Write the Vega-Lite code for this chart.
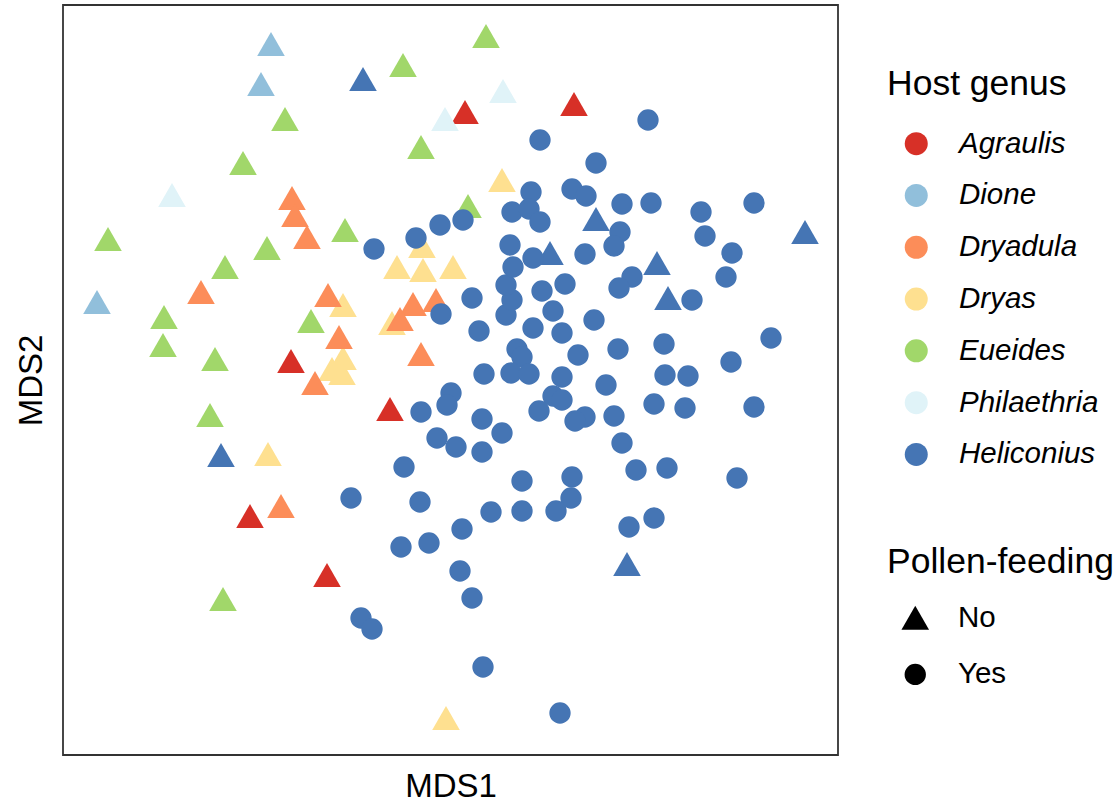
{
  "$schema": "https://vega.github.io/schema/vega-lite/v6.json",
  "width": 775,
  "height": 750,
  "autosize": {"type": "none"},
  "padding": {"left": 63, "top": 5, "right": 282, "bottom": 44},
  "background": "white",
  "config": {
    "view": {"stroke": "#333333", "strokeWidth": 1.8},
    "font": "Liberation Sans",
    "axis": {"domain": false, "ticks": false, "labels": false, "grid": false, "titleFont": "Liberation Sans", "titleFontSize": 33, "titleFontWeight": "normal", "titleColor": "black", "titlePadding": 15},
    "legend": {"padding": 0, "titleFont": "Liberation Sans", "titleFontSize": 35.5, "titleFontWeight": "normal", "titleColor": "black", "titleLimit": 600, "labelFont": "Liberation Sans", "labelFontSize": 29.5, "labelColor": "black", "labelLimit": 400, "symbolOpacity": 1, "symbolStrokeWidth": 0}
  },
  "data": {"values": [
    {"MDS1": 0.015, "MDS2": 0.268, "host": "Agraulis", "pollen": "No"},
    {"MDS1": 0.124, "MDS2": 0.276, "host": "Agraulis", "pollen": "No"},
    {"MDS1": -0.159, "MDS2": 0.019, "host": "Agraulis", "pollen": "No"},
    {"MDS1": -0.060, "MDS2": -0.029, "host": "Agraulis", "pollen": "No"},
    {"MDS1": -0.200, "MDS2": -0.136, "host": "Agraulis", "pollen": "No"},
    {"MDS1": -0.123, "MDS2": -0.195, "host": "Agraulis", "pollen": "No"},
    {"MDS1": -0.179, "MDS2": 0.336, "host": "Dione", "pollen": "No"},
    {"MDS1": -0.189, "MDS2": 0.296, "host": "Dione", "pollen": "No"},
    {"MDS1": -0.353, "MDS2": 0.078, "host": "Dione", "pollen": "No"},
    {"MDS1": 0.052, "MDS2": 0.200, "host": "Dryas", "pollen": "No"},
    {"MDS1": -0.028, "MDS2": 0.134, "host": "Dryas", "pollen": "No"},
    {"MDS1": -0.053, "MDS2": 0.113, "host": "Dryas", "pollen": "No"},
    {"MDS1": -0.027, "MDS2": 0.110, "host": "Dryas", "pollen": "No"},
    {"MDS1": 0.003, "MDS2": 0.113, "host": "Dryas", "pollen": "No"},
    {"MDS1": -0.107, "MDS2": 0.075, "host": "Dryas", "pollen": "No"},
    {"MDS1": -0.058, "MDS2": 0.057, "host": "Dryas", "pollen": "No"},
    {"MDS1": -0.107, "MDS2": 0.022, "host": "Dryas", "pollen": "No"},
    {"MDS1": -0.118, "MDS2": 0.011, "host": "Dryas", "pollen": "No"},
    {"MDS1": -0.108, "MDS2": 0.007, "host": "Dryas", "pollen": "No"},
    {"MDS1": -0.182, "MDS2": -0.074, "host": "Dryas", "pollen": "No"},
    {"MDS1": -0.004, "MDS2": -0.338, "host": "Dryas", "pollen": "No"},
    {"MDS1": -0.158, "MDS2": 0.182, "host": "Dryadula", "pollen": "No"},
    {"MDS1": -0.155, "MDS2": 0.165, "host": "Dryadula", "pollen": "No"},
    {"MDS1": -0.143, "MDS2": 0.143, "host": "Dryadula", "pollen": "No"},
    {"MDS1": -0.249, "MDS2": 0.088, "host": "Dryadula", "pollen": "No"},
    {"MDS1": -0.122, "MDS2": 0.085, "host": "Dryadula", "pollen": "No"},
    {"MDS1": -0.037, "MDS2": 0.076, "host": "Dryadula", "pollen": "No"},
    {"MDS1": -0.014, "MDS2": 0.080, "host": "Dryadula", "pollen": "No"},
    {"MDS1": -0.050, "MDS2": 0.061, "host": "Dryadula", "pollen": "No"},
    {"MDS1": -0.111, "MDS2": 0.043, "host": "Dryadula", "pollen": "No"},
    {"MDS1": -0.029, "MDS2": 0.026, "host": "Dryadula", "pollen": "No"},
    {"MDS1": -0.135, "MDS2": -0.003, "host": "Dryadula", "pollen": "No"},
    {"MDS1": -0.169, "MDS2": -0.126, "host": "Dryadula", "pollen": "No"},
    {"MDS1": 0.036, "MDS2": 0.344, "host": "Eueides", "pollen": "No"},
    {"MDS1": -0.047, "MDS2": 0.315, "host": "Eueides", "pollen": "No"},
    {"MDS1": -0.165, "MDS2": 0.261, "host": "Eueides", "pollen": "No"},
    {"MDS1": -0.029, "MDS2": 0.233, "host": "Eueides", "pollen": "No"},
    {"MDS1": -0.207, "MDS2": 0.217, "host": "Eueides", "pollen": "No"},
    {"MDS1": 0.018, "MDS2": 0.174, "host": "Eueides", "pollen": "No"},
    {"MDS1": -0.105, "MDS2": 0.150, "host": "Eueides", "pollen": "No"},
    {"MDS1": -0.342, "MDS2": 0.141, "host": "Eueides", "pollen": "No"},
    {"MDS1": -0.183, "MDS2": 0.132, "host": "Eueides", "pollen": "No"},
    {"MDS1": -0.225, "MDS2": 0.113, "host": "Eueides", "pollen": "No"},
    {"MDS1": -0.286, "MDS2": 0.063, "host": "Eueides", "pollen": "No"},
    {"MDS1": -0.139, "MDS2": 0.059, "host": "Eueides", "pollen": "No"},
    {"MDS1": -0.287, "MDS2": 0.035, "host": "Eueides", "pollen": "No"},
    {"MDS1": -0.235, "MDS2": 0.021, "host": "Eueides", "pollen": "No"},
    {"MDS1": -0.240, "MDS2": -0.035, "host": "Eueides", "pollen": "No"},
    {"MDS1": -0.227, "MDS2": -0.219, "host": "Eueides", "pollen": "No"},
    {"MDS1": 0.053, "MDS2": 0.289, "host": "Philaethria", "pollen": "No"},
    {"MDS1": -0.005, "MDS2": 0.261, "host": "Philaethria", "pollen": "No"},
    {"MDS1": -0.278, "MDS2": 0.185, "host": "Philaethria", "pollen": "No"},
    {"MDS1": -0.087, "MDS2": 0.301, "host": "Heliconius", "pollen": "No"},
    {"MDS1": 0.146, "MDS2": 0.161, "host": "Heliconius", "pollen": "No"},
    {"MDS1": 0.355, "MDS2": 0.148, "host": "Heliconius", "pollen": "No"},
    {"MDS1": 0.100, "MDS2": 0.127, "host": "Heliconius", "pollen": "No"},
    {"MDS1": 0.207, "MDS2": 0.117, "host": "Heliconius", "pollen": "No"},
    {"MDS1": 0.218, "MDS2": 0.082, "host": "Heliconius", "pollen": "No"},
    {"MDS1": -0.229, "MDS2": -0.075, "host": "Heliconius", "pollen": "No"},
    {"MDS1": 0.177, "MDS2": -0.184, "host": "Heliconius", "pollen": "No"},
    {"MDS1": 0.090, "MDS2": 0.240, "host": "Heliconius", "pollen": "Yes"},
    {"MDS1": 0.198, "MDS2": 0.260, "host": "Heliconius", "pollen": "Yes"},
    {"MDS1": 0.146, "MDS2": 0.217, "host": "Heliconius", "pollen": "Yes"},
    {"MDS1": 0.081, "MDS2": 0.188, "host": "Heliconius", "pollen": "Yes"},
    {"MDS1": 0.122, "MDS2": 0.191, "host": "Heliconius", "pollen": "Yes"},
    {"MDS1": 0.136, "MDS2": 0.184, "host": "Heliconius", "pollen": "Yes"},
    {"MDS1": 0.062, "MDS2": 0.168, "host": "Heliconius", "pollen": "Yes"},
    {"MDS1": 0.079, "MDS2": 0.171, "host": "Heliconius", "pollen": "Yes"},
    {"MDS1": 0.090, "MDS2": 0.158, "host": "Heliconius", "pollen": "Yes"},
    {"MDS1": 0.013, "MDS2": 0.160, "host": "Heliconius", "pollen": "Yes"},
    {"MDS1": -0.010, "MDS2": 0.155, "host": "Heliconius", "pollen": "Yes"},
    {"MDS1": -0.034, "MDS2": 0.142, "host": "Heliconius", "pollen": "Yes"},
    {"MDS1": -0.076, "MDS2": 0.131, "host": "Heliconius", "pollen": "Yes"},
    {"MDS1": 0.060, "MDS2": 0.135, "host": "Heliconius", "pollen": "Yes"},
    {"MDS1": 0.083, "MDS2": 0.122, "host": "Heliconius", "pollen": "Yes"},
    {"MDS1": 0.172, "MDS2": 0.176, "host": "Heliconius", "pollen": "Yes"},
    {"MDS1": 0.201, "MDS2": 0.177, "host": "Heliconius", "pollen": "Yes"},
    {"MDS1": 0.251, "MDS2": 0.168, "host": "Heliconius", "pollen": "Yes"},
    {"MDS1": 0.304, "MDS2": 0.177, "host": "Heliconius", "pollen": "Yes"},
    {"MDS1": 0.170, "MDS2": 0.148, "host": "Heliconius", "pollen": "Yes"},
    {"MDS1": 0.164, "MDS2": 0.134, "host": "Heliconius", "pollen": "Yes"},
    {"MDS1": 0.255, "MDS2": 0.144, "host": "Heliconius", "pollen": "Yes"},
    {"MDS1": 0.282, "MDS2": 0.127, "host": "Heliconius", "pollen": "Yes"},
    {"MDS1": 0.135, "MDS2": 0.126, "host": "Heliconius", "pollen": "Yes"},
    {"MDS1": 0.182, "MDS2": 0.103, "host": "Heliconius", "pollen": "Yes"},
    {"MDS1": 0.169, "MDS2": 0.092, "host": "Heliconius", "pollen": "Yes"},
    {"MDS1": 0.276, "MDS2": 0.103, "host": "Heliconius", "pollen": "Yes"},
    {"MDS1": 0.242, "MDS2": 0.080, "host": "Heliconius", "pollen": "Yes"},
    {"MDS1": 0.144, "MDS2": 0.060, "host": "Heliconius", "pollen": "Yes"},
    {"MDS1": 0.321, "MDS2": 0.042, "host": "Heliconius", "pollen": "Yes"},
    {"MDS1": 0.168, "MDS2": 0.031, "host": "Heliconius", "pollen": "Yes"},
    {"MDS1": 0.214, "MDS2": 0.036, "host": "Heliconius", "pollen": "Yes"},
    {"MDS1": 0.281, "MDS2": 0.018, "host": "Heliconius", "pollen": "Yes"},
    {"MDS1": 0.215, "MDS2": 0.005, "host": "Heliconius", "pollen": "Yes"},
    {"MDS1": 0.238, "MDS2": 0.004, "host": "Heliconius", "pollen": "Yes"},
    {"MDS1": 0.156, "MDS2": -0.005, "host": "Heliconius", "pollen": "Yes"},
    {"MDS1": 0.204, "MDS2": -0.024, "host": "Heliconius", "pollen": "Yes"},
    {"MDS1": 0.235, "MDS2": -0.028, "host": "Heliconius", "pollen": "Yes"},
    {"MDS1": 0.304, "MDS2": -0.027, "host": "Heliconius", "pollen": "Yes"},
    {"MDS1": 0.135, "MDS2": -0.037, "host": "Heliconius", "pollen": "Yes"},
    {"MDS1": 0.164, "MDS2": -0.036, "host": "Heliconius", "pollen": "Yes"},
    {"MDS1": 0.172, "MDS2": -0.063, "host": "Heliconius", "pollen": "Yes"},
    {"MDS1": 0.186, "MDS2": -0.090, "host": "Heliconius", "pollen": "Yes"},
    {"MDS1": 0.217, "MDS2": -0.088, "host": "Heliconius", "pollen": "Yes"},
    {"MDS1": 0.287, "MDS2": -0.098, "host": "Heliconius", "pollen": "Yes"},
    {"MDS1": 0.179, "MDS2": -0.147, "host": "Heliconius", "pollen": "Yes"},
    {"MDS1": 0.204, "MDS2": -0.138, "host": "Heliconius", "pollen": "Yes"},
    {"MDS1": 0.092, "MDS2": 0.089, "host": "Heliconius", "pollen": "Yes"},
    {"MDS1": 0.115, "MDS2": 0.096, "host": "Heliconius", "pollen": "Yes"},
    {"MDS1": 0.103, "MDS2": 0.069, "host": "Heliconius", "pollen": "Yes"},
    {"MDS1": 0.083, "MDS2": 0.052, "host": "Heliconius", "pollen": "Yes"},
    {"MDS1": 0.112, "MDS2": 0.047, "host": "Heliconius", "pollen": "Yes"},
    {"MDS1": 0.128, "MDS2": 0.025, "host": "Heliconius", "pollen": "Yes"},
    {"MDS1": 0.112, "MDS2": 0.003, "host": "Heliconius", "pollen": "Yes"},
    {"MDS1": 0.103, "MDS2": -0.016, "host": "Heliconius", "pollen": "Yes"},
    {"MDS1": 0.112, "MDS2": -0.020, "host": "Heliconius", "pollen": "Yes"},
    {"MDS1": 0.089, "MDS2": -0.031, "host": "Heliconius", "pollen": "Yes"},
    {"MDS1": 0.125, "MDS2": -0.041, "host": "Heliconius", "pollen": "Yes"},
    {"MDS1": 0.067, "MDS2": 0.031, "host": "Heliconius", "pollen": "Yes"},
    {"MDS1": 0.072, "MDS2": 0.023, "host": "Heliconius", "pollen": "Yes"},
    {"MDS1": 0.056, "MDS2": 0.065, "host": "Heliconius", "pollen": "Yes"},
    {"MDS1": 0.062, "MDS2": 0.080, "host": "Heliconius", "pollen": "Yes"},
    {"MDS1": 0.056, "MDS2": 0.095, "host": "Heliconius", "pollen": "Yes"},
    {"MDS1": 0.063, "MDS2": 0.113, "host": "Heliconius", "pollen": "Yes"},
    {"MDS1": 0.034, "MDS2": 0.006, "host": "Heliconius", "pollen": "Yes"},
    {"MDS1": 0.061, "MDS2": 0.007, "host": "Heliconius", "pollen": "Yes"},
    {"MDS1": 0.079, "MDS2": 0.006, "host": "Heliconius", "pollen": "Yes"},
    {"MDS1": 0.029, "MDS2": 0.049, "host": "Heliconius", "pollen": "Yes"},
    {"MDS1": 0.022, "MDS2": 0.082, "host": "Heliconius", "pollen": "Yes"},
    {"MDS1": -0.009, "MDS2": 0.066, "host": "Heliconius", "pollen": "Yes"},
    {"MDS1": 0.001, "MDS2": -0.013, "host": "Heliconius", "pollen": "Yes"},
    {"MDS1": -0.003, "MDS2": -0.025, "host": "Heliconius", "pollen": "Yes"},
    {"MDS1": -0.029, "MDS2": -0.032, "host": "Heliconius", "pollen": "Yes"},
    {"MDS1": 0.032, "MDS2": -0.039, "host": "Heliconius", "pollen": "Yes"},
    {"MDS1": 0.052, "MDS2": -0.053, "host": "Heliconius", "pollen": "Yes"},
    {"MDS1": -0.013, "MDS2": -0.058, "host": "Heliconius", "pollen": "Yes"},
    {"MDS1": 0.006, "MDS2": -0.067, "host": "Heliconius", "pollen": "Yes"},
    {"MDS1": 0.032, "MDS2": -0.072, "host": "Heliconius", "pollen": "Yes"},
    {"MDS1": -0.046, "MDS2": -0.087, "host": "Heliconius", "pollen": "Yes"},
    {"MDS1": -0.099, "MDS2": -0.118, "host": "Heliconius", "pollen": "Yes"},
    {"MDS1": -0.030, "MDS2": -0.122, "host": "Heliconius", "pollen": "Yes"},
    {"MDS1": 0.072, "MDS2": -0.101, "host": "Heliconius", "pollen": "Yes"},
    {"MDS1": 0.122, "MDS2": -0.097, "host": "Heliconius", "pollen": "Yes"},
    {"MDS1": 0.121, "MDS2": -0.118, "host": "Heliconius", "pollen": "Yes"},
    {"MDS1": 0.041, "MDS2": -0.132, "host": "Heliconius", "pollen": "Yes"},
    {"MDS1": 0.072, "MDS2": -0.131, "host": "Heliconius", "pollen": "Yes"},
    {"MDS1": 0.106, "MDS2": -0.131, "host": "Heliconius", "pollen": "Yes"},
    {"MDS1": 0.012, "MDS2": -0.149, "host": "Heliconius", "pollen": "Yes"},
    {"MDS1": -0.049, "MDS2": -0.167, "host": "Heliconius", "pollen": "Yes"},
    {"MDS1": -0.021, "MDS2": -0.163, "host": "Heliconius", "pollen": "Yes"},
    {"MDS1": 0.010, "MDS2": -0.191, "host": "Heliconius", "pollen": "Yes"},
    {"MDS1": 0.022, "MDS2": -0.218, "host": "Heliconius", "pollen": "Yes"},
    {"MDS1": -0.089, "MDS2": -0.238, "host": "Heliconius", "pollen": "Yes"},
    {"MDS1": -0.078, "MDS2": -0.249, "host": "Heliconius", "pollen": "Yes"},
    {"MDS1": 0.033, "MDS2": -0.287, "host": "Heliconius", "pollen": "Yes"},
    {"MDS1": 0.110, "MDS2": -0.333, "host": "Heliconius", "pollen": "Yes"}
  ]},
  "mark": {"type": "point", "filled": true, "opacity": 1, "strokeWidth": 0},
  "encoding": {
    "x": {"field": "MDS1", "type": "quantitative", "title": "MDS1", "scale": {"domain": [-0.387, 0.388], "nice": false, "zero": false}},
    "y": {"field": "MDS2", "type": "quantitative", "title": "MDS2", "scale": {"domain": [-0.375, 0.375], "nice": false, "zero": false}},
    "color": {
      "field": "host", "type": "nominal", "title": "Host genus",
      "scale": {
        "domain": ["Agraulis", "Dione", "Dryadula", "Dryas", "Eueides", "Philaethria", "Heliconius"],
        "range": ["#d73027", "#91bfdb", "#fc8d59", "#fee090", "#a1d76a", "#e0f3f8", "#4575b4"]
      },
      "legend": {"orient": "none", "legendX": 824, "legendY": 61.6, "symbolType": "circle", "symbolSize": 529, "symbolOffset": 14.5, "labelOffset": 28, "labelFontStyle": "italic", "rowPadding": 20.8, "titlePadding": 26.8}
    },
    "shape": {
      "field": "pollen", "type": "nominal", "title": "Pollen-feeding",
      "scale": {"domain": ["No", "Yes"], "range": ["triangle-up", "circle"]},
      "legend": {"orient": "none", "legendX": 824, "legendY": 540, "symbolFillColor": "black", "symbolOffset": 13.5, "labelOffset": 28, "rowPadding": 25.7, "titlePadding": 22.5}
    },
    "size": {
      "field": "pollen", "type": "nominal",
      "scale": {"domain": ["No", "Yes"], "range": [760, 455]}
    }
  }
}
